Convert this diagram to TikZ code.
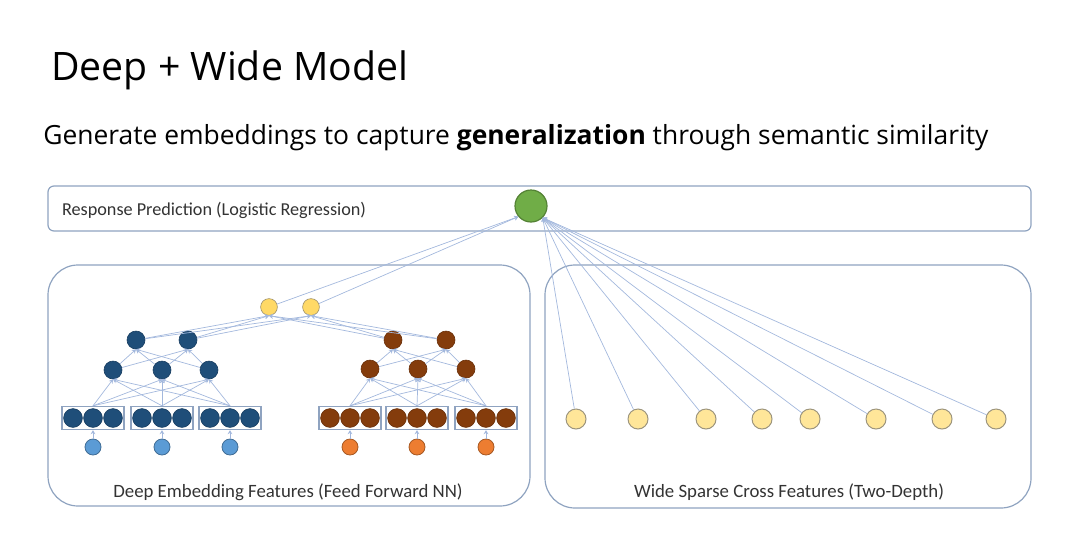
\documentclass[tikz,border=0pt]{standalone}
\usepackage{fontspec}
\setmainfont{Open Sans}
\newfontfamily\calibri{Carlito}
\usetikzlibrary{arrows.meta, positioning}

\definecolor{frameclr}{HTML}{8FA3C0}
\definecolor{edgeclr}{HTML}{A3B8DD}
\definecolor{deepblue}{HTML}{1F4E79}
\definecolor{deepbrown}{HTML}{843C0C}
\definecolor{inblue}{HTML}{5B9BD5}
\definecolor{inorange}{HTML}{ED7D31}
\definecolor{hidyellow}{HTML}{FFD966}
\definecolor{widecream}{HTML}{FFE699}
\definecolor{outgreen}{HTML}{70AD47}
\definecolor{labelclr}{HTML}{333333}

\begin{document}
\begin{tikzpicture}[
    x=0.5pt, y=-0.5pt,
    panel/.style={
        draw=frameclr, line width=0.6pt, rounded corners=15pt
    },
    embox/.style={
        rectangle, draw=frameclr, line width=0.7pt,
        minimum width=31pt, minimum height=11.5pt, inner sep=0pt
    },
    emb/.style={
        circle, fill=#1, draw=#1!80!black, line width=0.3pt,
        minimum size=9.4pt, inner sep=0pt
    },
    hid/.style={
        circle, fill=#1, draw=#1!80!black, line width=0.3pt,
        minimum size=9pt, inner sep=0pt
    },
    inp/.style={
        circle, fill=#1, draw=#1!70!black, line width=0.4pt,
        minimum size=8pt, inner sep=0pt
    },
    cross/.style={
        circle, fill=widecream, draw=widecream!45!black!70, line width=0.5pt,
        minimum size=10pt, inner sep=0pt
    },
    link/.style={
        draw=edgeclr, line width=0.35pt,
        -{Stealth[length=2pt, width=2.4pt]}
    },
    lbl/.style={font=\calibri\fontsize{9.4}{11}\selectfont, text=labelclr}
]
\useasboundingbox (0,0) rectangle (1080,536);

% heading
\node[anchor=base west, inner sep=0pt, font=\fontsize{19.6}{22}\selectfont] (title) at (51,80) {Deep + Wide Model};
\node[anchor=base west, inner sep=0pt, font=\fontsize{13.2}{15}\selectfont] (subtitle) at (43,144)
    {Generate embeddings to capture \textbf{generalization} through semantic similarity};

% panels
\draw[panel, rounded corners=3pt] (48,186) rectangle (1031,231);
\draw[panel] (48,265) rectangle (530,506);
\draw[panel] (545,265) rectangle (1031,508);

\node[lbl, anchor=west, font=\calibri\fontsize{9.1}{10}\selectfont] (resp) at (55,210) {Response Prediction (Logistic Regression)};
\node[lbl] (deeplbl) at (288,492) {Deep Embedding Features (Feed Forward NN)};
\node[lbl] (widelbl) at (789,492) {Wide Sparse Cross Features (Two-Depth)};

% output unit
\node[circle, fill=outgreen, draw=outgreen!75!black, line width=0.6pt,
      minimum size=16pt, inner sep=0pt] (out) at (531,206) {};

% embedding blocks and raw inputs
\foreach \i/\x/\c/\ic in {1/93/deepblue/inblue, 2/162/deepblue/inblue, 3/230/deepblue/inblue,
                          4/350/deepbrown/inorange, 5/417/deepbrown/inorange, 6/486/deepbrown/inorange} {
    \node[embox] (eb\i) at (\x,418) {};
    \node[emb=\c] (eb\i a) at (\x-20,418) {};
    \node[emb=\c] (eb\i b) at (\x,418) {};
    \node[emb=\c] (eb\i c) at (\x+20,418) {};
    \node[inp=\ic] (in\i) at (\x,447) {};
    \draw[link] (in\i) -- (eb\i);
}

% hidden layers
\node[hid=deepblue] (b11) at (113,370) {};
\node[hid=deepblue] (b12) at (162,370) {};
\node[hid=deepblue] (b13) at (209,370) {};
\node[hid=deepblue] (b21) at (136,340) {};
\node[hid=deepblue] (b22) at (188,340) {};

\node[hid=deepbrown] (r11) at (370,369) {};
\node[hid=deepbrown] (r12) at (418,369) {};
\node[hid=deepbrown] (r13) at (466,369) {};
\node[hid=deepbrown] (r21) at (393,340) {};
\node[hid=deepbrown] (r22) at (446,340) {};

\node[hid=hidyellow, draw=hidyellow!45!black!70, minimum size=8.4pt] (y1) at (269,307) {};
\node[hid=hidyellow, draw=hidyellow!45!black!70, minimum size=8.4pt] (y2) at (311,307) {};

% connections
\foreach \e in {1,2,3} {
    \foreach \h in {1,2,3} {
        \draw[link] (eb\e.north) -- (b1\h.south);
        \pgfmathtruncatemacro{\f}{\e+3}
        \draw[link] (eb\f.north) -- (r1\h.south);
    }
}
\foreach \h in {1,2,3} {
    \foreach \g in {1,2} {
        \draw[link] (b1\h) -- (b2\g.south);
        \draw[link] (r1\h) -- (r2\g.south);
    }
}
\foreach \g in {1,2} {
    \foreach \t in {1,2} {
        \draw[link] (b2\g) -- (y\t.south);
        \draw[link] (r2\g) -- (y\t.south);
    }
    \draw[link] (y\g) -- (out.-140);
}

% wide part
\foreach \k/\x in {1/576, 2/638, 3/706, 4/762, 5/810, 6/876, 7/942, 8/996} {
    \node[cross] (w\k) at (\x,419) {};
    \draw[link] (w\k) -- (out.-45);
}

\end{tikzpicture}
\end{document}
